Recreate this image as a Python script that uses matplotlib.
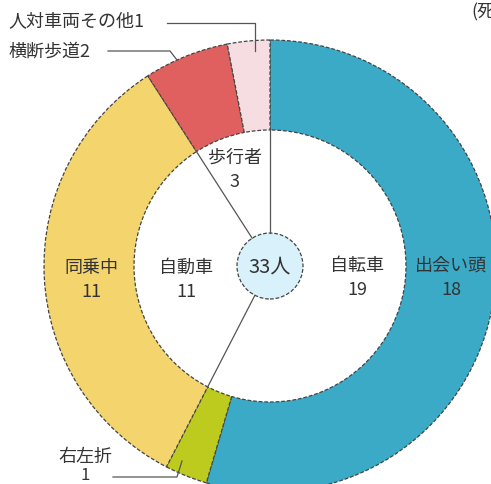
import numpy as np
import matplotlib.pyplot as plt

plt.rcParams['font.family'] = ['Noto Sans CJK JP', 'DejaVu Sans']

outer_labels = ['出会い頭', '右左折', '同乗中', '横断歩道', '人対車両その他']
outer_values = [18, 1, 11, 2, 1]
outer_colors = ['#3aaac6', '#bccb1e', '#f4d46c', '#e0605f', '#f6dde1']
inner_labels = ['自転車', '自動車', '歩行者']
inner_values = [19, 11, 3]
total = sum(inner_values)

W, H = 491, 485
fig = plt.figure(figsize=(W / 100, H / 100), dpi=100)
ax = fig.add_axes([0, 0, 1, 1])

cx, cy = 270, H - 267  # centre in pixel coords (y up)
R, r_in, r_c = 226, 136, 33
edge = dict(edgecolor='#444444', linewidth=0.9, linestyle=(0, (3, 1.5)))

ax.pie(outer_values, colors=outer_colors, startangle=90, counterclock=False,
       radius=R, center=(cx, cy), wedgeprops=dict(width=R - r_in, **edge))

# inner dividers
cum = np.concatenate([[0], np.cumsum(inner_values)[:-1]])
for c in cum:
    th = np.deg2rad(90 - c / total * 360)
    ax.plot([cx + r_c * np.cos(th), cx + r_in * np.cos(th)],
            [cy + r_c * np.sin(th), cy + r_in * np.sin(th)],
            color='#555555', lw=0.9)

ax.add_patch(plt.Circle((cx, cy), r_c, facecolor='#d9f1fa', **edge))

ax.set_xlim(0, W)
ax.set_ylim(0, H)
ax.set_aspect('equal')
ax.axis('off')

tc = '#333333'
fs = 13


def lab(x, y, s, n, **kw):
    # y given in image coords
    ax.text(x, H - y, s, ha='center', va='center', fontsize=fs, color=tc, **kw)
    ax.text(x, H - y - 24, str(n), ha='center', va='center', fontsize=fs, color=tc, **kw)


lab(451, 266, outer_labels[0], outer_values[0])
lab(357, 266, inner_labels[0], inner_values[0])
lab(186, 268, inner_labels[1], inner_values[1])
lab(91, 268, outer_labels[2], outer_values[2])
lab(235, 158, inner_labels[2], inner_values[2])
ax.text(cx, cy, f'{total}人', ha='center', va='center', fontsize=14.5, color=tc)

# callouts
ax.text(8, H - 21, f'{outer_labels[4]}{outer_values[4]}', ha='left', va='center',
        fontsize=fs, color=tc)
ax.plot([167, 255, 255], [H - 24, H - 24, H - 52], color='#555555', lw=0.9)
ax.text(8, H - 52, f'{outer_labels[3]}{outer_values[3]}', ha='left', va='center',
        fontsize=fs, color=tc)
ax.plot([108, 170, 177], [H - 52, H - 52, H - 61], color='#555555', lw=0.9)
ax.text(85, H - 457, outer_labels[1], ha='center', va='center', fontsize=fs, color=tc)
ax.text(85, H - 476, str(outer_values[1]), ha='center', va='center', fontsize=12, color=tc)
ax.plot([113, 177, 182], [H - 478, H - 478, H - 462], color='#555555', lw=0.9)

ax.text(471, H - 12, '(死', ha='left', va='center', fontsize=fs, color=tc)

fig.savefig('out.png', dpi=100)
